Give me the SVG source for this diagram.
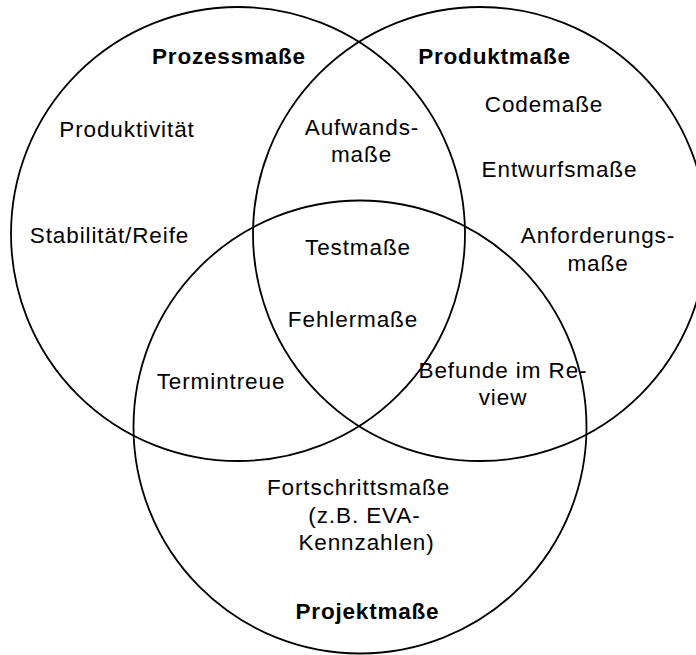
<svg xmlns="http://www.w3.org/2000/svg" width="696" height="655" viewBox="0 0 696 655">
  <style>
    .ring { fill: none; stroke: #000; stroke-width: 1.8; }
    text { font-family: "Liberation Sans", Arial, sans-serif; font-size: 22.5px; letter-spacing: 0.9px; fill: #000; text-anchor: middle; }
    .title { font-weight: bold; letter-spacing: 0.8px; }
  </style>
  <rect width="696" height="655" fill="#fff"/>

  <!-- Three overlapping measure categories -->
  <g id="prozessmasse">
    <circle class="ring" cx="238" cy="234" r="227"/>
    <text class="title" x="229" y="64">Prozessmaße</text>
    <text x="127" y="137">Produktivität</text>
    <text x="109.5" y="243">Stabilität/Reife</text>
  </g>

  <g id="produktmasse">
    <circle class="ring" cx="480" cy="234" r="227"/>
    <text class="title" x="494.5" y="64">Produktmaße</text>
    <text x="544" y="112">Codemaße</text>
    <text x="559.5" y="177">Entwurfsmaße</text>
    <text x="598" y="243">Anforderungs-</text>
    <text x="598" y="271">maße</text>
  </g>

  <g id="projektmasse">
    <circle class="ring" cx="360" cy="427" r="226.5"/>
    <text class="title" x="367.5" y="619">Projektmaße</text>
    <text x="358.5" y="495">Fortschrittsmaße</text>
    <text x="364.5" y="523">(z.B. EVA-</text>
    <text x="366.5" y="550">Kennzahlen)</text>
  </g>

  <!-- Labels in the overlap regions -->
  <g id="ueberschneidungen">
    <text x="362" y="135">Aufwands-</text>
    <text x="361.5" y="162">maße</text>
    <text x="358" y="255">Testmaße</text>
    <text x="353" y="327">Fehlermaße</text>
    <text x="221" y="389">Termintreue</text>
    <text x="503" y="378">Befunde im Re-</text>
    <text x="503" y="405">view</text>
  </g>
</svg>
